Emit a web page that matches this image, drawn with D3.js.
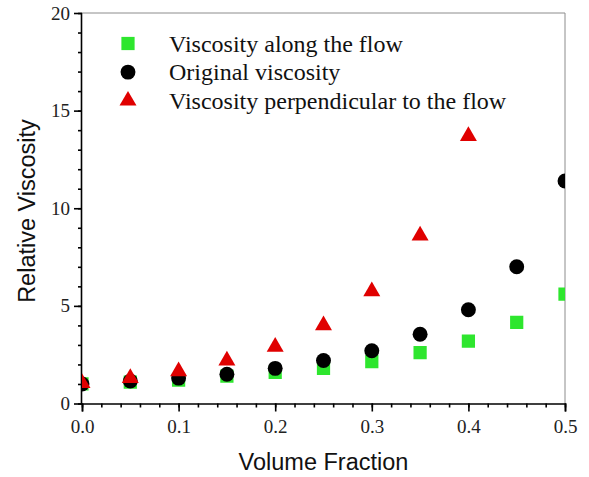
<!DOCTYPE html>
<html>
<head>
<meta charset="utf-8">
<script src="https://cdn.jsdelivr.net/npm/d3@7"></script>
<style>
  body { margin: 0; background: #fff; }
  svg { display: block; }
</style>
</head>
<body>
<svg id="chart"></svg>
<script>
// volume fractions on the x axis
var fractions = [0, 0.05, 0.1, 0.15, 0.2, 0.25, 0.3, 0.35, 0.4, 0.45, 0.5];
var alongFlow = [1.0, 1.1, 1.2, 1.4, 1.6, 1.8, 2.15, 2.6, 3.2, 4.15, 5.6];
var original = [1.0, 1.15, 1.3, 1.5, 1.8, 2.2, 2.7, 3.55, 4.8, 7.0, 11.4];
var perpendicular = [1.05, 1.3, 1.65, 2.2, 2.9, 4.0, 5.75, 8.6, 13.7];
var xTicks = [0, 0.1, 0.2, 0.3, 0.4, 0.5];
var yTicks = [0, 5, 10, 15, 20];
var legendNames = ["Viscosity along the flow", "Original viscosity", "Viscosity perpendicular to the flow"];

var width = 589,
    height = 477,
    margin = {"top": 13, "right": 24, "bottom": 73, "left": 82},
    green = "#2ee62e",
    red = "#e00000",
    serif = "'Liberation Serif', 'Times New Roman', serif",
    sans = "'Liberation Sans', Arial, sans-serif";

var svg = d3.select("svg#chart")
    .attr("width", width)
    .attr("height", height);

var x = d3.scaleLinear().domain([0, 0.5]).range([margin.left, width - margin.right]);
var y = d3.scaleLinear().domain([0, 20]).range([height - margin.bottom - 0.5, margin.top]);

svg.append("clipPath")
    .attr("id", "plot-clip")
  .append("rect")
    .attr("x", x(0))
    .attr("y", y(20))
    .attr("width", x(0.5) - x(0))
    .attr("height", y(0) - y(20));

// frame: top and right in grey
svg.append("path")
    .attr("d", "M" + x(0) + "," + y(20) + "H" + x(0.5) + "V" + y(0))
    .attr("fill", "none")
    .attr("stroke", "#8c8c8c")
    .attr("stroke-width", 1);

// x axis
var xAxis = svg.append("g")
    .attr("transform", "translate(0," + y(0) + ")")
    .call(d3.axisBottom(x).tickValues(xTicks).tickSize(8).tickFormat(d3.format(".1f")));

svg.append("g")
    .attr("transform", "translate(0," + y(0) + ")")
    .call(d3.axisBottom(x).tickValues(d3.range(0, 0.5001, 0.02)).tickSize(4).tickFormat(""))
    .select(".domain").remove();

// y axis
var yAxis = svg.append("g")
    .attr("transform", "translate(" + x(0) + ",0)")
    .call(d3.axisLeft(y).tickValues(yTicks).tickSize(8).tickPadding(4));

svg.append("g")
    .attr("transform", "translate(" + x(0) + ",0)")
    .call(d3.axisLeft(y).tickValues(d3.range(0, 20.001, 1)).tickSize(4).tickFormat(""))
    .select(".domain").remove();

svg.selectAll(".tick line, .domain")
    .attr("stroke", "#000")
    .attr("stroke-width", 1.6);

svg.selectAll(".tick text")
    .attr("fill", "#222")
    .style("font-family", serif)
    .style("font-size", "19px");

xAxis.selectAll(".tick text").attr("y", 29).attr("dy", 0);
yAxis.selectAll(".domain").attr("d", "M-0.5," + y(0) + "V" + y(20));

// axis titles
svg.append("text")
    .attr("x", (x(0) + x(0.5)) / 2)
    .attr("y", 470)
    .attr("text-anchor", "middle")
    .style("font-family", sans)
    .style("font-size", "23.5px")
    .attr("fill", "#111")
    .text("Volume Fraction");

svg.append("text")
    .attr("transform", "translate(35," + 211 + ") rotate(-90)")
    .attr("text-anchor", "middle")
    .style("font-family", sans)
    .style("font-size", "23.5px")
    .attr("fill", "#111")
    .text("Relative Viscosity");

var symbolSquare = d3.symbol().type(d3.symbolSquare).size(175),
    symbolCircle = d3.symbol().type(d3.symbolCircle).size(175),
    symbolTriangle = d3.symbol().type(d3.symbolTriangle).size(125);

var plot = svg.append("g").attr("clip-path", "url(#plot-clip)");

function scatter(values, symbol, color, cls) {
    plot.selectAll("path." + cls)
        .data(values)
        .enter()
        .append("path")
            .attr("class", cls)
            .attr("d", symbol)
            .attr("fill", color)
            .attr("transform", function(d, i) {
                return "translate(" + [x(fractions[i]), y(d)] + ")";
            });
}

scatter(alongFlow, symbolSquare, green, "along");
scatter(original, symbolCircle, "#000", "original");
scatter(perpendicular, symbolTriangle, red, "perp");

// legend
var legendSymbols = [symbolSquare, symbolCircle, symbolTriangle],
    legendColors = [green, "#000", red];

var legend_g = svg.append("g")
    .attr("class", "legend")
    .attr("transform", "translate(128,43.5)");

var legend_row = legend_g.selectAll("g.row")
    .data(legendNames)
    .enter()
    .append("g")
        .attr("class", "row")
        .attr("transform", function(d, i) {
            return "translate(" + [0, 28.6 * i] + ")";
        });

legend_row.append("path")
    .attr("d", function(d, i) { return legendSymbols[i](); })
    .attr("fill", function(d, i) { return legendColors[i]; });

legend_row.append("text")
    .attr("x", 41)
    .attr("y", 8)
    .style("font-family", serif)
    .style("font-size", "24px")
    .attr("fill", "#111")
    .text(function(d) { return d; });
</script>
</body>
</html>
